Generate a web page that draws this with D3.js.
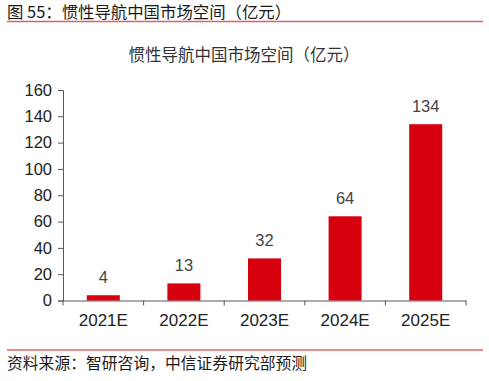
<!DOCTYPE html>
<html><head><meta charset="utf-8">
<script src="https://cdn.jsdelivr.net/npm/d3@7"></script>
<style>html,body{margin:0;padding:0;background:#fff;}svg{display:block;}</style>
</head><body>
<svg id="c" width="489" height="381"></svg>
<script>
const categories = ["2021E","2022E","2023E","2024E","2025E"];
const values = [4, 13, 32, 64, 134];
const yTicks = [0,20,40,60,80,100,120,140,160];
const figTitle = "图 55：惯性导航中国市场空间（亿元）";
const chartTitle = "惯性导航中国市场空间（亿元）";
const source = "资料来源：智研咨询，中信证券研究部预测";

const svg = d3.select("#c");
const font = "'Liberation Sans', Arial, 'Noto Sans CJK SC', sans-serif";
const cjk = "'Noto Sans CJK SC', sans-serif";

// header
svg.append("text").attr("x",7).attr("y",18).text(figTitle)
  .attr("font-family",cjk).attr("font-size",16.4).attr("fill","#1a1a1a");
svg.append("line").attr("x1",7).attr("x2",483).attr("y1",21.5).attr("y2",21.5)
  .attr("stroke","#e06060").attr("stroke-width",1.3);
svg.append("line").attr("x1",7).attr("x2",483).attr("y1",350).attr("y2",350)
  .attr("stroke","#e06060").attr("stroke-width",1.3);
svg.append("text").attr("x",7).attr("y",369).text(source)
  .attr("font-family",cjk).attr("font-size",15.8).attr("fill","#1a1a1a");

svg.append("text").attr("x",244).attr("y",61).attr("text-anchor","middle").text(chartTitle)
  .attr("font-family",cjk).attr("font-size",16.5).attr("fill","#333");

const x = d3.scaleBand().domain(categories).range([63,466]).paddingInner(0).paddingOuter(0);
const y = d3.scaleLinear().domain([0,160]).range([300.5,90]);
const barW = x.bandwidth()*0.41;

const xAxis = svg.append("g").attr("transform","translate(0,300.5)")
  .call(d3.axisBottom(x).tickSize(0).tickPadding(13));
xAxis.select(".domain").attr("stroke","#595959");
xAxis.selectAll("text").attr("font-family",font).attr("font-size",17).attr("fill","#222");
// boundary ticks
const bounds = categories.map(c=>x(c)).concat([x.range()[1]]);
svg.append("g").selectAll("line").data(bounds).join("line")
  .attr("x1",d=>d).attr("x2",d=>d).attr("y1",300.5).attr("y2",305.5)
  .attr("stroke","#595959");

const yAxis = svg.append("g").attr("transform","translate(63,0)")
  .call(d3.axisLeft(y).tickValues(yTicks).tickSize(5).tickPadding(6));
yAxis.select(".domain").attr("stroke","#595959");
yAxis.selectAll(".tick line").attr("stroke","#595959");
yAxis.selectAll("text").attr("font-family",font).attr("font-size",16.5).attr("fill","#222");

svg.append("g").selectAll("rect").data(values).join("rect")
  .attr("x",(d,i)=>x(categories[i])+x.bandwidth()/2-barW/2)
  .attr("width",barW)
  .attr("y",d=>y(d)).attr("height",d=>y(0)-y(d))
  .attr("fill","#d7000f");

svg.append("g").selectAll("text").data(values).join("text")
  .attr("x",(d,i)=>x(categories[i])+x.bandwidth()/2)
  .attr("y",d=>y(d)-12)
  .attr("text-anchor","middle").text(d=>d)
  .attr("font-family",font).attr("font-size",16.5).attr("fill","#444");
</script>
</body></html>
